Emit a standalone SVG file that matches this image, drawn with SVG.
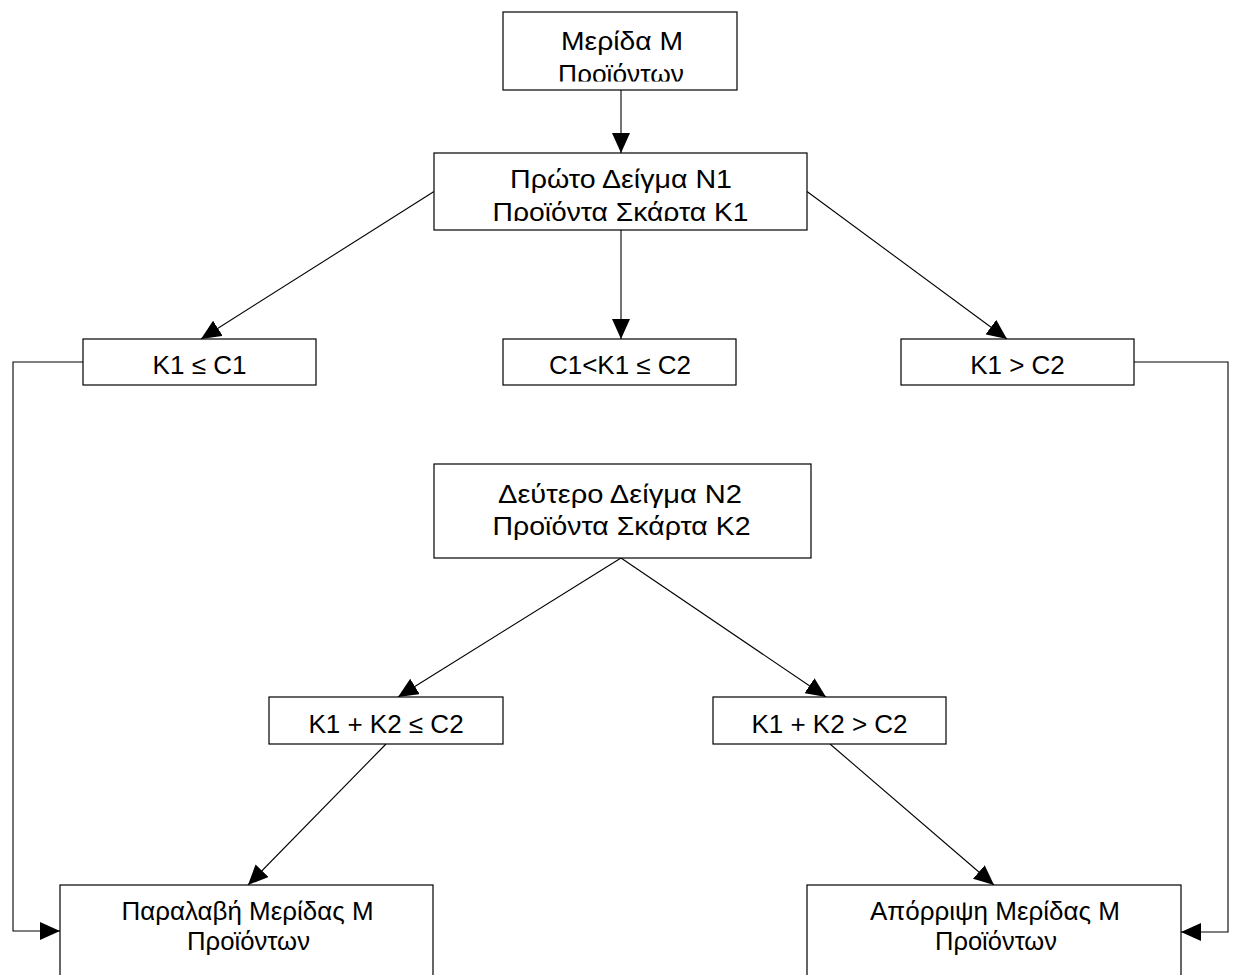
<svg xmlns="http://www.w3.org/2000/svg" width="1234" height="975" viewBox="0 0 1234 975">
<style>
.box{fill:#fff;stroke:#000;stroke-width:1.2}
.t{font-family:"Liberation Sans",Arial,sans-serif;font-size:26px;fill:#000;text-anchor:middle}
.c{fill:none;stroke:#000;stroke-width:1.1}
</style>
<defs>
<marker id="ah" markerUnits="userSpaceOnUse" markerWidth="20" markerHeight="18" refX="20" refY="9" orient="auto" viewBox="0 0 20 18">
<path d="M0,0 L20,9 L0,18 z" fill="#000"/>
</marker>
<clipPath id="clipA"><rect x="511" y="20" width="218" height="61.5"/></clipPath>
<clipPath id="clipB"><rect x="442" y="161" width="357" height="60"/></clipPath>
</defs>
<rect width="1234" height="975" fill="#fff"/>
<g id="connectors">
<line class="c" x1="621" y1="90" x2="621" y2="153" marker-end="url(#ah)"/>
<line class="c" x1="434" y1="191.5" x2="201" y2="339" marker-end="url(#ah)"/>
<line class="c" x1="621" y1="230" x2="621" y2="339" marker-end="url(#ah)"/>
<line class="c" x1="807" y1="191.5" x2="1007" y2="339" marker-end="url(#ah)"/>
<polyline class="c" points="83,362 13,362 13,931 60,931" marker-end="url(#ah)"/>
<polyline class="c" points="1134,362 1228,362 1228,932 1181,932" marker-end="url(#ah)"/>
<line class="c" x1="621" y1="558" x2="398" y2="697" marker-end="url(#ah)"/>
<line class="c" x1="621" y1="558" x2="826" y2="697" marker-end="url(#ah)"/>
<line class="c" x1="386" y1="744" x2="248" y2="885" marker-end="url(#ah)"/>
<line class="c" x1="830" y1="744" x2="994" y2="885" marker-end="url(#ah)"/>
</g>
<g id="lot">
<rect class="box" x="503" y="12" width="234" height="78"/>
<g clip-path="url(#clipA)">
<text class="t" x="622" y="50" textLength="122" lengthAdjust="spacingAndGlyphs">Μερίδα Μ</text>
<text class="t" x="621" y="83" textLength="126" lengthAdjust="spacingAndGlyphs">Προϊόντων</text>
</g>
</g>
<g id="sample1">
<rect class="box" x="434" y="153" width="373" height="77"/>
<g clip-path="url(#clipB)">
<text class="t" x="621" y="188" textLength="222" lengthAdjust="spacingAndGlyphs">Πρώτο Δείγμα Ν1</text>
<text class="t" x="620.5" y="220.5" textLength="256" lengthAdjust="spacingAndGlyphs">Προϊόντα Σκάρτα Κ1</text>
</g>
</g>
<g id="cond-k1-le-c1">
<rect class="box" x="83" y="339" width="233" height="46"/>
<text class="t" x="199.5" y="374">K1 ≤ C1</text>
</g>
<g id="cond-c1-k1-c2">
<rect class="box" x="503" y="339" width="233" height="46"/>
<text class="t" x="620" y="374">C1&lt;K1 ≤ C2</text>
</g>
<g id="cond-k1-gt-c2">
<rect class="box" x="901" y="339" width="233" height="46"/>
<text class="t" x="1017.5" y="374">K1 &gt; C2</text>
</g>
<g id="sample2">
<rect class="box" x="434" y="464" width="377" height="94"/>
<text class="t" x="620" y="503" textLength="244" lengthAdjust="spacingAndGlyphs">Δεύτερο Δείγμα Ν2</text>
<text class="t" x="621.5" y="535" textLength="258" lengthAdjust="spacingAndGlyphs">Προϊόντα Σκάρτα Κ2</text>
</g>
<g id="cond-sum-le-c2">
<rect class="box" x="269" y="697" width="234" height="47"/>
<text class="t" x="386" y="733">K1 + K2 ≤ C2</text>
</g>
<g id="cond-sum-gt-c2">
<rect class="box" x="713" y="697" width="233" height="47"/>
<text class="t" x="829.5" y="733">K1 + K2 &gt; C2</text>
</g>
<g id="accept">
<rect class="box" x="60" y="885" width="373" height="120"/>
<text class="t" x="247.5" y="920" textLength="252" lengthAdjust="spacingAndGlyphs">Παραλαβή Μερίδας Μ</text>
<text class="t" x="248.5" y="950" textLength="123" lengthAdjust="spacingAndGlyphs">Προϊόντων</text>
</g>
<g id="reject">
<rect class="box" x="807" y="885" width="374" height="120"/>
<text class="t" x="995" y="920" textLength="250" lengthAdjust="spacingAndGlyphs">Απόρριψη Μερίδας Μ</text>
<text class="t" x="996" y="950" textLength="122" lengthAdjust="spacingAndGlyphs">Προϊόντων</text>
</g>
</svg>
